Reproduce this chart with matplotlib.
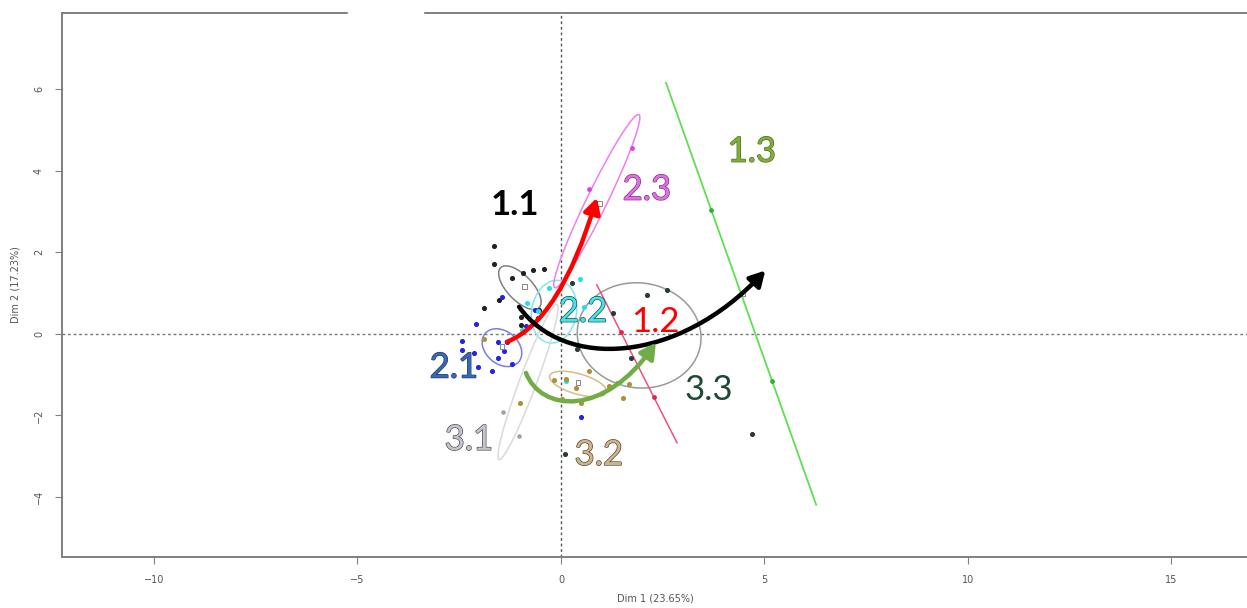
import matplotlib
matplotlib.use("Agg")
import matplotlib.pyplot as plt
import matplotlib.patheffects as pe
from matplotlib.patches import Ellipse, FancyArrowPatch, Rectangle
from matplotlib.path import Path

# individuals, by colour group (Dim 1, Dim 2)
black_x = [-1.65, -1.65, -0.93, -0.69, -0.42, -1.20, -1.52, -1.89, -0.98, -0.98, -0.54, -0.57]
black_y = [2.16, 1.72, 1.50, 1.57, 1.59, 1.37, 0.83, 0.64, 0.42, 0.22, 0.59, 0.39]
blue_x = [-1.45, -2.09, -2.43, -1.55, -1.33, -0.86, -0.64, -2.43, -2.14, -2.04, -1.70, -1.20, -1.55, 0.49, -1.40]
blue_y = [0.91, 0.25, -0.17, -0.20, -0.20, 0.20, 0.59, -0.39, -0.47, -0.81, -0.91, -0.74, -0.59, -2.03, -0.42]
cyan_x = [-0.29, -0.84, -0.96, 0.47, 0.57, 0.12, -0.57]
cyan_y = [1.13, 0.76, 0.10, 1.35, 0.66, -1.15, 0.56]
olive_x = [-0.17, 0.12, 0.37, 0.02, 0.49, 0.69, 1.01, 1.18, 1.38, 1.67, 1.52, -1.01, -1.89]
olive_y = [-1.13, -1.10, -1.32, -1.59, -1.69, -0.91, -1.45, -1.27, -1.20, -1.23, -1.57, -1.69, -0.12]
grey_x = [-1.43, -1.03]
grey_y = [-1.91, -2.50]
pink_x = [1.74, 0.69]
pink_y = [4.56, 3.55]
red_x = [1.47, 2.29]
red_y = [0.05, -1.54]
green_x = [3.69, 5.18]
green_y = [3.04, -1.15]
dark_x = [0.27, 2.11, 2.60, 1.28, 0.39, 1.72, 4.69, 0.10]
dark_y = [1.25, 0.96, 1.08, 0.51, -0.37, -0.59, -2.45, -2.94]

# group means (hollow squares)
mean_x = [-0.90, -1.45, 0.42, 0.95, 4.45]
mean_y = [1.15, -0.32, -1.20, 3.20, 0.98]

# confidence ellipses: 1.1, 2.1, 2.2, 2.3, 3.1, 3.2, 3.3
ell_cx = [-1.01, -1.45, -0.17, 0.88, -0.81, 0.42, 1.92]
ell_cy = [1.13, -0.34, 0.54, 3.25, -1.18, -1.23, -0.04]
ell_w = [1.36, 1.08, 1.10, 4.72, 4.06, 1.45, 3.05]
ell_h = [0.62, 0.80, 1.55, 0.50, 0.42, 0.50, 2.57]
ell_ang = [-46, -40, -10, 64, 69.5, -16, -8]
ell_col = ['#808080', '#7b7bf0', '#7fe9ee', '#f07ef0', '#dadade', '#cfc08a', '#949c98']

# degenerate ellipses (1.2 and 1.3) drawn as segments
seg12_x = [0.88, 2.85]
seg12_y = [1.20, -2.67]
seg13_x = [2.58, 6.27]
seg13_y = [6.15, -4.19]

# trajectories
red_path = [(-1.33, -0.20), (-0.02, 0.32), (0.88, 3.33)]
black_path = [(-1.03, 0.66), (0.07, -0.88), (2.87, -0.76), (5.02, 1.55)]
green_path = [(-0.86, -0.96), (-0.49, -1.91), (1.06, -2.06), (2.33, -0.22)]

# labels
lab_txt = ['1.1', '2.3', '1.3', '2.2', '1.2', '2.1', '3.3', '3.1', '3.2']
lab_x = [-1.13, 2.11, 4.69, 0.54, 2.31, -2.63, 3.64, -2.26, 0.93]
lab_y = [3.16, 3.53, 4.46, 0.54, 0.29, -0.83, -1.37, -2.60, -2.97]
lab_col = ['#000000', '#e070e0', '#7fae3a', '#44e4e8', '#ff0000', '#3a68b4', '#1d4a35', '#c4c4cc', '#cdb48e']
lab_edge = [None, '#7a2a7a', '#4a6a20', '#1a3a3a', None, '#1e3a6a', None, '#404048', '#4a3a20']

fig = plt.figure(figsize=(12.47, 6.08), dpi=100)
ax = fig.add_axes([62 / 1247, 51 / 608, 1186 / 1247, 544 / 608])
ax.set_xlim(-12.26, 16.88)
ax.set_ylim(-5.47, 7.86)

ax.axhline(0, color='#777777', lw=1, ls=(0, (2, 2)), zorder=1)
ax.axvline(0, color='#555555', lw=1, ls=(0, (2, 2)), zorder=1)

for cx, cy, w, h, a, c in zip(ell_cx, ell_cy, ell_w, ell_h, ell_ang, ell_col):
    ax.add_patch(Ellipse((cx, cy), w, h, angle=a, fill=False, ec=c, lw=1.1, zorder=2))
ax.plot(seg12_x, seg12_y, color='#f0507a', lw=1.1, zorder=2)
ax.plot(seg13_x, seg13_y, color='#5fe050', lw=1.3, zorder=2)

ax.scatter(black_x, black_y, s=7, color='#202020', zorder=3)
ax.scatter(blue_x, blue_y, s=7, color='#2222ee', zorder=3)
ax.scatter(cyan_x, cyan_y, s=7, color='#22e0ee', zorder=3)
ax.scatter(olive_x, olive_y, s=7, color='#b09030', zorder=3)
ax.scatter(grey_x, grey_y, s=5, color='#a0a0a0', zorder=3)
ax.scatter(pink_x, pink_y, s=6, color='#e040e0', zorder=3)
ax.scatter(red_x, red_y, s=6, color='#e8204a', zorder=3)
ax.scatter(green_x, green_y, s=6, color='#30b030', zorder=3)
ax.scatter(dark_x, dark_y, s=7, color='#2a3a34', zorder=3)
ax.scatter(mean_x, mean_y, s=12, marker='s', facecolor='none', edgecolor='#888888', lw=0.7, zorder=3)


def bezier(pts):
    codes = [Path.MOVETO] + ([Path.CURVE3] * 2 if len(pts) == 3 else [Path.CURVE4] * 3)
    return Path(pts, codes)


for pts, col in [(red_path, '#ff0000'), (black_path, '#000000'), (green_path, '#70ad47')]:
    arr = FancyArrowPatch(path=bezier(pts), arrowstyle='-|>,head_length=9,head_width=5',
                          color=col, lw=3.2, zorder=5)
    ax.add_patch(arr)

for t, x, y, c, e in zip(lab_txt, lab_x, lab_y, lab_col, lab_edge):
    kw = {}
    if e is not None:
        kw['path_effects'] = [pe.withStroke(linewidth=0.9, foreground=e)]
    ax.text(x, y, t, color=c, fontsize=25, ha='center', va='center', family='Lato',
            fontweight='bold' if t == '1.1' else 'normal', zorder=6, **kw)

for s in ['top', 'bottom', 'left', 'right']:
    ax.spines[s].set_color('#808080')
    ax.spines[s].set_linewidth(1.4)
ax.set_xticks([-10, -5, 0, 5, 10, 15])
ax.set_yticks([-4, -2, 0, 2, 4, 6])
ax.tick_params(direction='out', length=5, color='#808080', labelcolor='#555555',
               labelsize=7, pad=8)
for lbl in ax.get_yticklabels():
    lbl.set_rotation(90)
    lbl.set_va('center')
ax.set_xlabel('Dim 1 (23.65%)', fontsize=7, color='#555555', labelpad=6)
ax.set_ylabel('Dim 2 (17.23%)', fontsize=7, color='#555555', labelpad=10)

# blank patch over the top frame
fig.patches.append(Rectangle((348 / 1247, 560 / 608), 75 / 1247, 48 / 608,
                             transform=fig.transFigure, color='white', zorder=10))

fig.savefig('out.png', dpi=100)
